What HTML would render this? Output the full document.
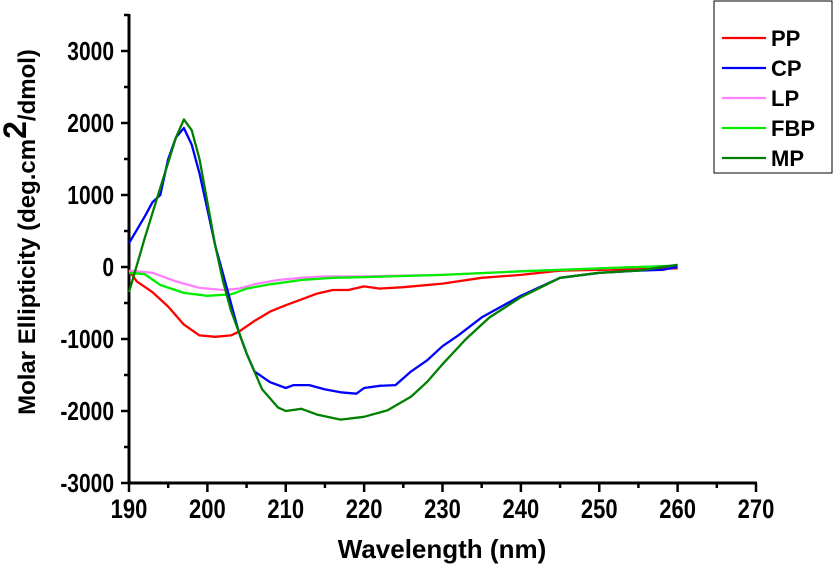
<!DOCTYPE html>
<html><head><meta charset="utf-8"><style>
body{margin:0;background:#fff;}
svg text{font-family:"Liberation Sans",Arial,sans-serif;font-weight:bold;fill:#000;}
</style></head><body>
<svg id="chart" width="834" height="570" viewBox="0 0 834 570" xmlns="http://www.w3.org/2000/svg">
<g id="axes"></g>
<g id="series"></g>
<text x="442" y="558" font-size="26" text-anchor="middle">Wavelength (nm)</text>
<text transform="translate(35,232) rotate(-90)" font-size="24" text-anchor="middle">Molar Ellipticity (deg.cm<tspan font-size="32" dy="-9">2</tspan><tspan dy="9">/dmol)</tspan></text>
<g>
<rect x="714" y="1" width="118" height="172" fill="#fff" stroke="#000" stroke-width="1"/>
<g id="legend-items"></g>
</g>
</svg>
<script>
const seriesNames=["PP","CP","LP","FBP","MP"];
const seriesColors=["#ff0000","#0000ff","#ff80ff","#00ee00","#008000"];
const ppX=[190,191,193,195,197,199,201,203,204,206,208,210,212,214,216,218,220,222,225,230,235,240,245,250,255,260];
const ppY=[-50,-200,-350,-550,-800,-950,-970,-950,-900,-750,-620,-530,-450,-370,-320,-320,-270,-300,-280,-230,-150,-110,-50,-40,-30,-20];
const cpX=[190,192,193,194,195,196,197,198,199,200,201,202,203,204,205,206,208,210,211,213,215,217,219,220,222,224,226,228,230,232,235,240,245,250,255,258,260];
const cpY=[330,700,900,1000,1500,1800,1930,1700,1300,800,300,-100,-500,-900,-1200,-1450,-1600,-1680,-1640,-1640,-1700,-1740,-1760,-1680,-1650,-1640,-1450,-1300,-1100,-950,-700,-400,-150,-80,-50,-40,0];
const lpX=[190,193,196,199,202,204,206,209,212,215,220,230,240,250,260];
const lpY=[-50,-80,-200,-290,-320,-300,-240,-180,-150,-130,-130,-110,-60,-20,20];
const fbpX=[190,192,194,197,200,203,205,208,212,216,220,230,240,250,260];
const fbpY=[-80,-100,-250,-360,-400,-380,-300,-240,-180,-150,-140,-110,-60,-20,20];
const mpX=[190,192,194,196,197,198,199,200,201,202,203,205,207,209,210,212,214,217,220,223,226,228,230,233,236,240,245,250,255,260];
const mpY=[-350,400,1100,1800,2050,1900,1500,900,300,-200,-600,-1200,-1700,-1950,-2000,-1970,-2050,-2120,-2080,-1990,-1800,-1600,-1350,-1000,-700,-420,-150,-80,-50,30];
const xTicks=[190,200,210,220,230,240,250,260,270];
const yTicks=[-3000,-2000,-1000,0,1000,2000,3000];
const NS="http://www.w3.org/2000/svg";
function sx(v){return 129+(v-190)*(756-129)/80;}
function sy(v){return 267-v*(432/6000);}
function mk(t,a,p){const e=document.createElementNS(NS,t);for(const k in a)e.setAttribute(k,a[k]);p.appendChild(e);return e;}
const ax=document.getElementById('axes');
let l=mk('line',{x1:129,y1:14,x2:129,y2:484,stroke:'#000','stroke-width':3},ax);


l=mk('line',{x1:128,y1:483,x2:757,y2:483,stroke:'#000','stroke-width':3},ax);


xTicks.forEach((v,i)=>{
  const x=sx(v);
  mk('line',{x1:x,y1:483,x2:x,y2:492,stroke:'#000','stroke-width':2.5},ax);
  if(i<xTicks.length-1){const xm=sx(v+5);mk('line',{x1:xm,y1:483,x2:xm,y2:488,stroke:'#000','stroke-width':2.5},ax);}
  const t=mk('text',{x:0,y:0,transform:'translate('+x+',518) scale(1,1.22)','font-size':22,'text-anchor':'middle'},ax);t.textContent=v;
  
  
});
yTicks.forEach((v,i)=>{
  const y=sy(v);
  mk('line',{x1:121,y1:y,x2:129,y2:y,stroke:'#000','stroke-width':2.5},ax);
  const ym=sy(v+500);mk('line',{x1:124,y1:ym,x2:129,y2:ym,stroke:'#000','stroke-width':2.5},ax);
  const t=mk('text',{x:0,y:0,transform:'translate(114,'+(y+9)+') scale(1,1.22)','font-size':21,'text-anchor':'end'},ax);t.textContent=v;
  
  
});
const allX=[ppX,cpX,lpX,fbpX,mpX],allY=[ppY,cpY,lpY,fbpY,mpY];
const sg=document.getElementById('series');
const order=[0,2,3,1,4];
order.forEach(i=>{
  const d=allX[i].map((x,j)=>(j?'L':'M')+sx(x).toFixed(1)+','+sy(allY[i][j]).toFixed(1)).join(' ');
  const p=mk('path',{d:d,fill:'none',stroke:seriesColors[i],'stroke-width':2.3,'stroke-linejoin':'round'},sg);
  
  
});
const lg=document.getElementById('legend-items');
seriesNames.forEach((n,i)=>{
  const y=38+i*30;
  const g=mk('g',{},lg);
  
  
  mk('line',{x1:722,y1:y,x2:766,y2:y,stroke:seriesColors[i],'stroke-width':2.3},g);
  const t=mk('text',{x:771,y:y+8,'font-size':22},g);t.textContent=n;
});
</script>
</body></html>
